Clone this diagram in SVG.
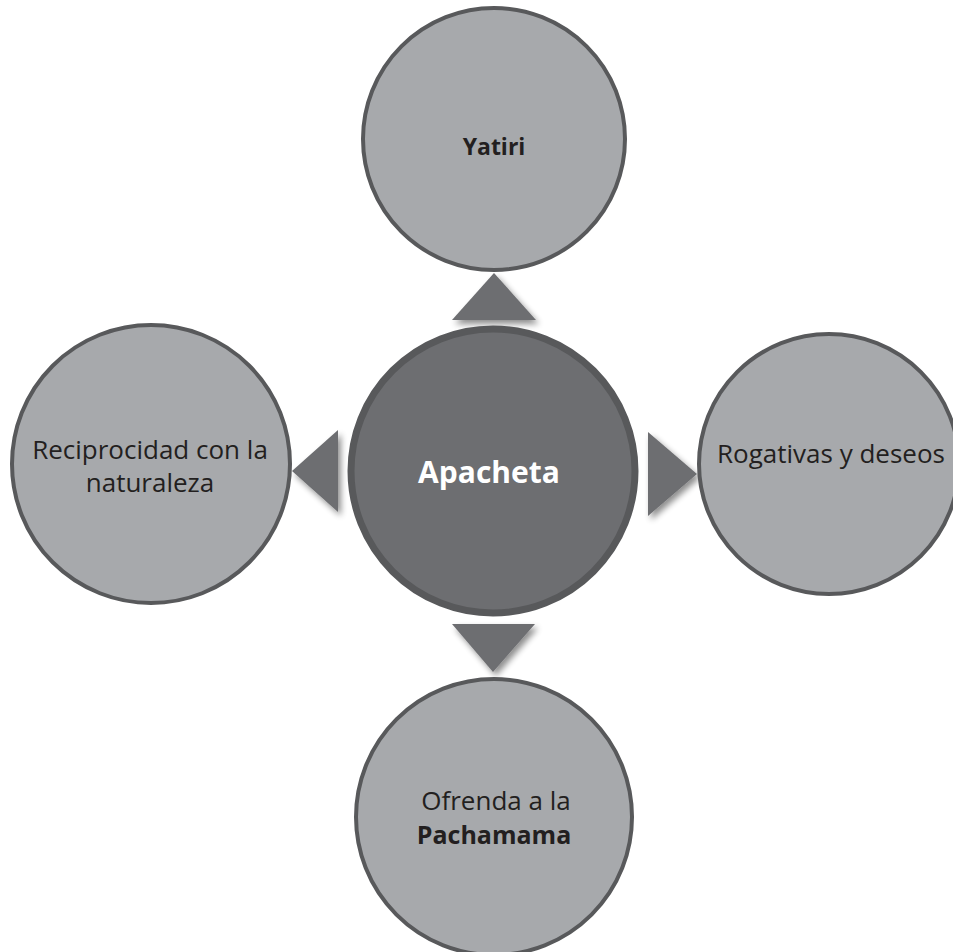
<svg xmlns="http://www.w3.org/2000/svg" width="953" height="952" viewBox="0 0 953 952">
<style>
.outer{fill:#a7a9ac;stroke:#58595b;stroke-width:4}
.center{fill:#6d6e71;stroke:#58595b;stroke-width:7}
.arrow{fill:#6d6e71;filter:url(#sh)}
.lbl{font-family:"Open Sans","Liberation Sans",sans-serif;font-size:26px;fill:#231f20;text-anchor:middle}
.b{font-weight:bold}
.main{font-family:"Open Sans","Liberation Sans",sans-serif;font-size:30px;font-weight:bold;fill:#ffffff;text-anchor:middle}
</style>
<defs>
<filter id="sh" x="-30%" y="-30%" width="160%" height="160%">
<feGaussianBlur in="SourceAlpha" stdDeviation="3"/>
<feOffset dx="3" dy="4" result="o"/>
<feComponentTransfer><feFuncA type="linear" slope="0.45"/></feComponentTransfer>
<feMerge><feMergeNode/><feMergeNode in="SourceGraphic"/></feMerge>
</filter>
</defs>
<rect width="953" height="952" fill="#ffffff"/>
<g id="connectors">
<polygon class="arrow" points="494,273 452,320 536,320"/>
<polygon class="arrow" points="292,471 338,430 338,512"/>
<polygon class="arrow" points="697,474 648,432 648,516"/>
<polygon class="arrow" points="493,672 452,624 535,624"/>
</g>
<g id="node-yatiri">
<circle class="outer" cx="494" cy="139" r="131"/>
<text class="lbl b" x="494" y="155" style="font-size:23px">Yatiri</text>
</g>
<g id="node-reciprocidad">
<circle class="outer" cx="151" cy="464" r="139"/>
<text class="lbl" x="150" y="459">Reciprocidad con la</text>
<text class="lbl" x="150" y="492">naturaleza</text>
</g>
<g id="node-rogativas">
<circle class="outer" cx="829" cy="464" r="130"/>
<text class="lbl" x="831" y="463">Rogativas y deseos</text>
</g>
<g id="node-pachamama">
<circle class="outer" cx="494" cy="817" r="138"/>
<text class="lbl" x="496" y="810">Ofrenda a la</text>
<text class="lbl b" x="494" y="844" style="font-size:25px">Pachamama</text>
</g>
<g id="node-apacheta">
<circle class="center" cx="493" cy="471" r="142"/>
<text class="main" x="489" y="483">Apacheta</text>
</g>
</svg>
